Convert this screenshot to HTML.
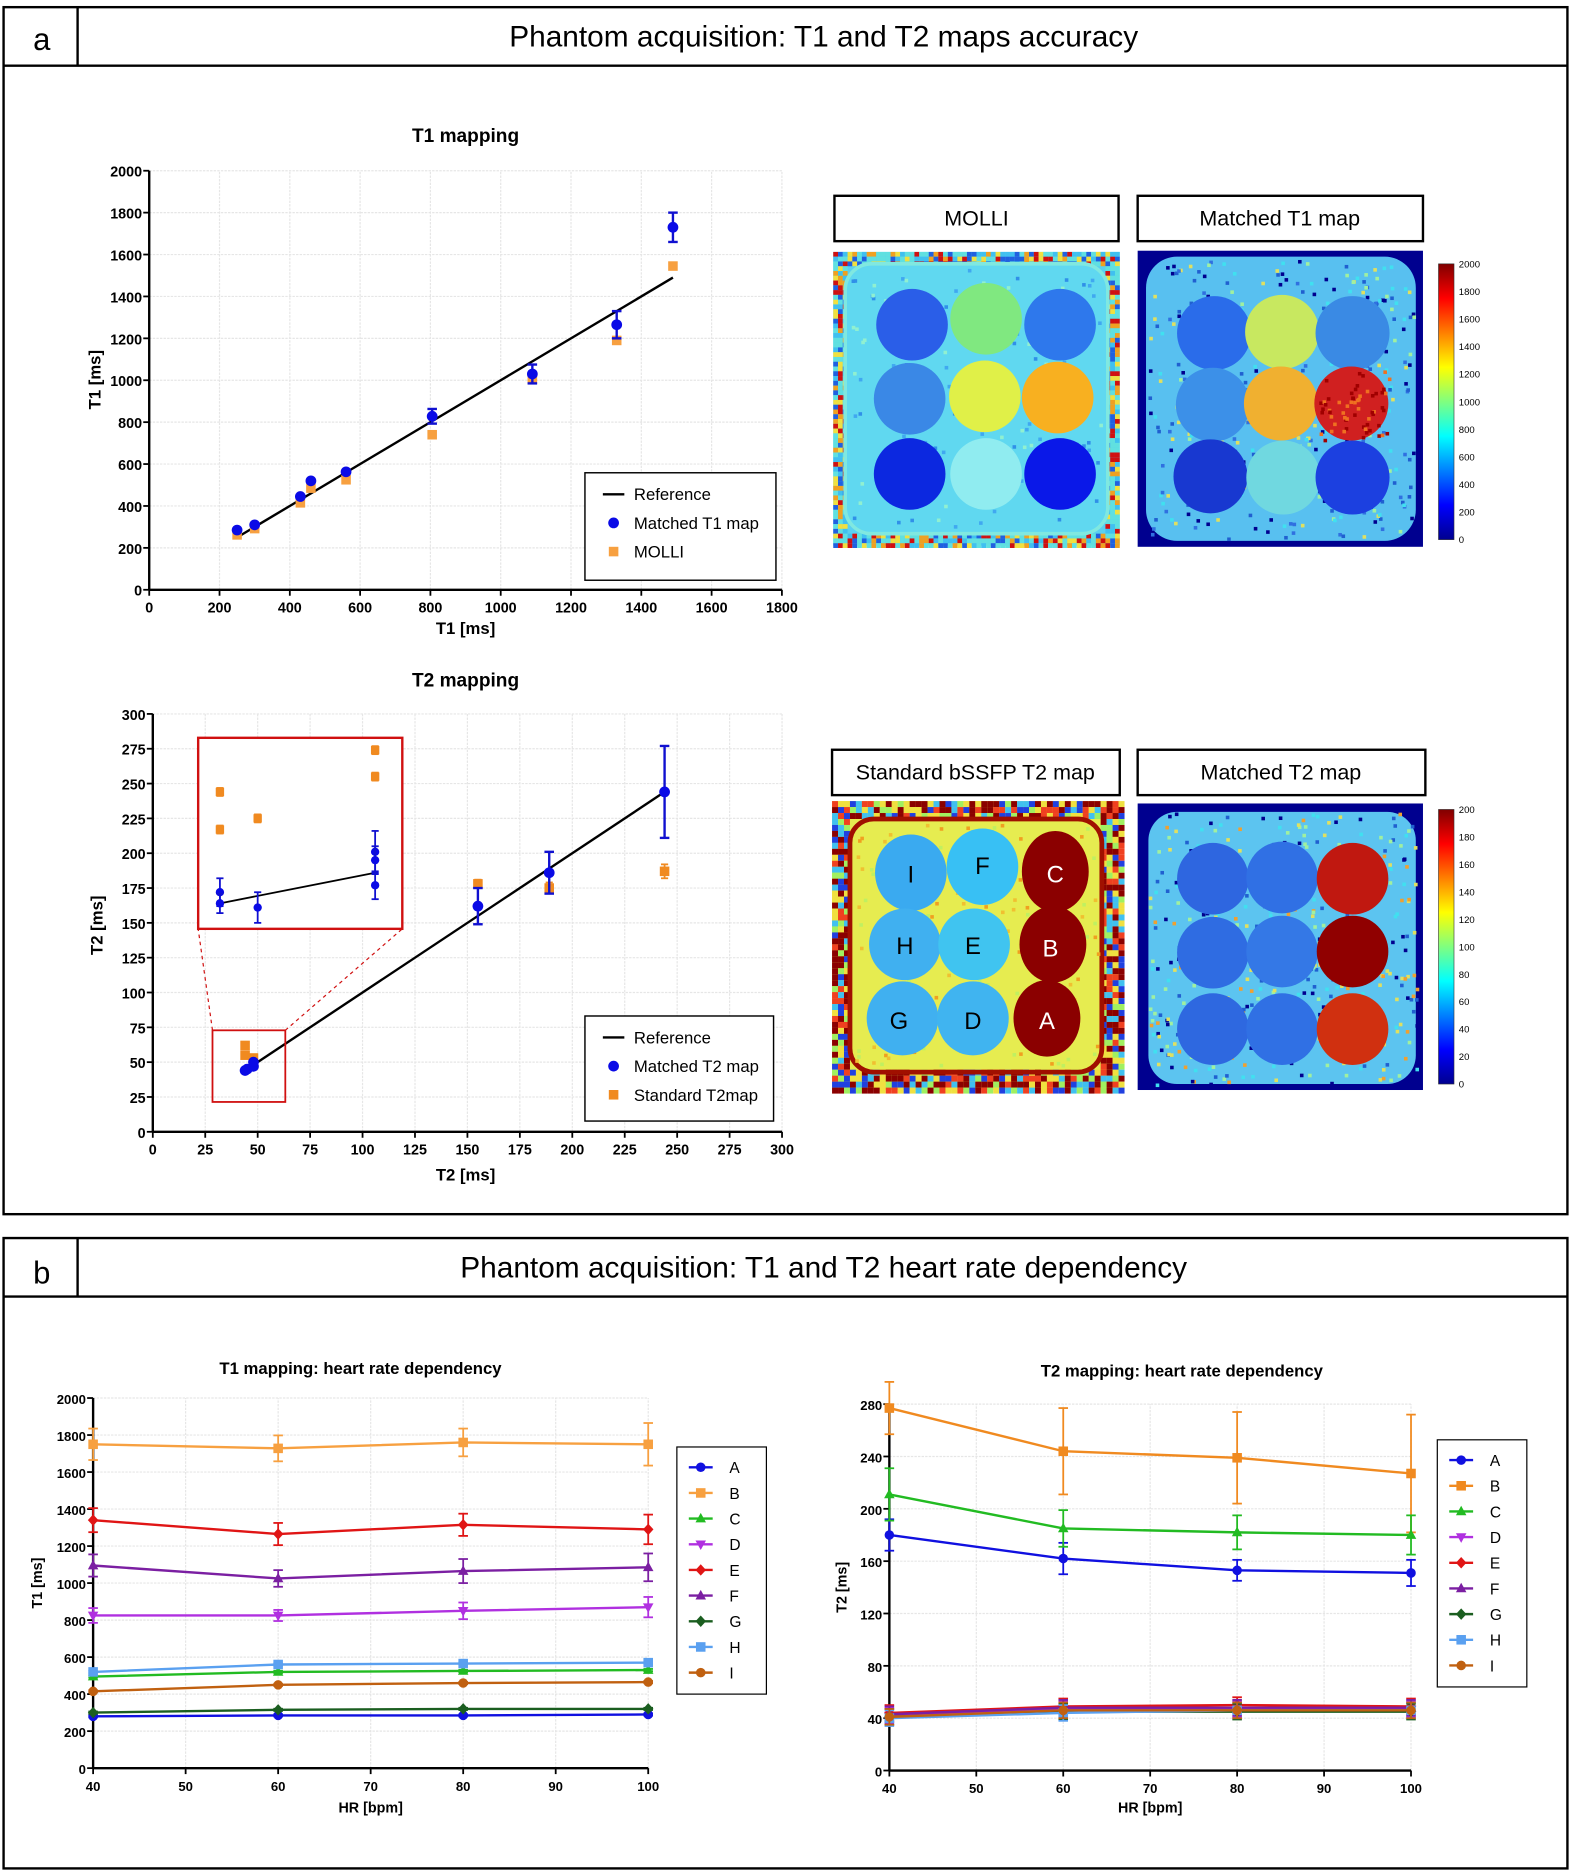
<!DOCTYPE html>
<html><head><meta charset="utf-8">
<style>
html,body{margin:0;padding:0;background:#fff;overflow:hidden;}
svg{display:block;font-family:"Liberation Sans",sans-serif;}
</style></head>
<body>
<svg id="fig" width="1571" height="1872" viewBox="0 0 1316 1568" preserveAspectRatio="none" xmlns="http://www.w3.org/2000/svg">
<rect x="0" y="0" width="1316" height="1568" fill="#fff"/>
<g>
<rect x="3" y="6" width="1310" height="1011" fill="none" stroke="#000" stroke-width="2"/>
<line x1="3" y1="55" x2="1313" y2="55" stroke="#000" stroke-width="2"/>
<line x1="65" y1="6" x2="65" y2="55" stroke="#000" stroke-width="2"/>
<text x="35" y="42" font-size="26" text-anchor="middle">a</text>
<text x="690" y="39" font-size="25" text-anchor="middle">Phantom acquisition: T1 and T2 maps accuracy</text>
</g>
<g>
<rect x="3" y="1037" width="1310" height="528" fill="none" stroke="#000" stroke-width="2"/>
<line x1="3" y1="1086" x2="1313" y2="1086" stroke="#000" stroke-width="2"/>
<line x1="65" y1="1037" x2="65" y2="1086" stroke="#000" stroke-width="2"/>
<text x="35" y="1075" font-size="26" text-anchor="middle">b</text>
<text x="690" y="1070" font-size="25" text-anchor="middle">Phantom acquisition: T1 and T2 heart rate dependency</text>
</g>
<g font-size="18" text-anchor="middle">
<rect x="699" y="164" width="238" height="38" fill="#fff" stroke="#000" stroke-width="2"/>
<text x="818" y="189">MOLLI</text>
<rect x="953" y="164" width="239" height="38" fill="#fff" stroke="#000" stroke-width="2"/>
<text x="1072" y="189">Matched T1 map</text>
<rect x="697" y="628" width="241" height="38" fill="#fff" stroke="#000" stroke-width="2"/>
<text x="817" y="653">Standard bSSFP T2 map</text>
<rect x="953" y="628" width="241" height="38" fill="#fff" stroke="#000" stroke-width="2"/>
<text x="1073" y="653">Matched T2 map</text>
</g>
<defs>
<linearGradient id="jet" x1="0" y1="1" x2="0" y2="0">
<stop offset="0" stop-color="#00008f"/><stop offset="0.125" stop-color="#0000ff"/>
<stop offset="0.375" stop-color="#00ffff"/><stop offset="0.625" stop-color="#ffff00"/>
<stop offset="0.875" stop-color="#ff0000"/><stop offset="1" stop-color="#800000"/>
</linearGradient>
</defs>
<g id="maps"></g>
<g id="charts"></g>
</svg>
<script>
// ---------- chart data ----------
const t1MatchedX = [250,300,430,460,560,805,1090,1330,1490];
const t1MatchedY = [285,310,445,520,563,828,1030,1265,1730];
const t1MatchedErr = [10,10,10,10,10,35,45,65,70];
const t1MolliX = [250,300,430,460,560,805,1090,1330,1490];
const t1MolliY = [262,292,415,485,525,740,1005,1190,1545];
const t1RefX = [250,1490];
const t1XTicks = [0,200,400,600,800,1000,1200,1400,1600,1800];
const t1YTicks = [0,200,400,600,800,1000,1200,1400,1600,1800,2000];

const t2MatchedX = [44,45,48,48,155,189,244];
const t2MatchedY = [44,45,47,50,162,186,244];
const t2MatchedErr = [2,2,2,2,13,15,33];
const t2StdX = [44,44,48,155,189,244];
const t2StdY = [62,55,53,178,175,187];
const t2StdErr = [2,2,2,3,4,5];
const t2RefX = [44,244];
const t2InsetBlueX = [32,32,50,106,106,106];
const t2InsetBlueY = [172,164,161,201,195,177];
const t2InsetBlueErr = [10,7,11,15,10,10];
const t2InsetOrangeX = [32,32,50,106,106];
const t2InsetOrangeY = [244,217,225,274,255];
const t2InsetRefX = [32,106];
const t2InsetRefY = [164,186];
const t2XTicks = [0,25,50,75,100,125,150,175,200,225,250,275,300];
const t2YTicks = [0,25,50,75,100,125,150,175,200,225,250,275,300];

const hrX = [40,60,80,100];
const hrSeriesNames = ['A','B','C','D','E','F','G','H','I'];
const hrT1A = [280,285,285,290];
const hrT1B = [1750,1728,1760,1750];
const hrT1C = [495,520,525,530];
const hrT1D = [825,825,850,870];
const hrT1E = [1340,1265,1315,1290];
const hrT1F = [1095,1025,1065,1085];
const hrT1G = [300,315,320,320];
const hrT1H = [520,560,565,570];
const hrT1I = [415,450,460,465];
const hrT1ErrB = [85,70,75,115];
const hrT1ErrD = [40,30,45,55];
const hrT1ErrE = [65,60,60,80];
const hrT1ErrF = [60,45,65,75];
const hrT2A = [180,162,153,151];
const hrT2B = [277,244,239,227];
const hrT2C = [211,185,182,180];
const hrT2D = [42,47,47,47];
const hrT2E = [44,49,50,49];
const hrT2F = [43,48,48,48];
const hrT2G = [41,45,45,45];
const hrT2H = [40,44,46,46];
const hrT2I = [41,46,46,46];
const hrT2ErrA = [12,12,8,10];
const hrT2ErrB = [20,33,35,45];
const hrT2ErrC = [20,14,13,15];
const hrXTicks = [40,50,60,70,80,90,100];
const hrT1YTicks = [0,200,400,600,800,1000,1200,1400,1600,1800,2000];
const hrT2YTicks = [0,40,80,120,160,200,240,280];

const NS='http://www.w3.org/2000/svg';
function mk(tag,attrs,parent){const e=document.createElementNS(NS,tag);for(const k in attrs)e.setAttribute(k,attrs[k]);(parent||charts).appendChild(e);return e;}
const charts=document.getElementById('charts');
const maps=document.getElementById('maps');

function axes(g,sx,sy,xt,yt,x0,x1,y0,y1,fs,xlabel,ylabel,xlx,xly,ylx,yly,tfs){
  xt.forEach(v=>{const l=mk('line',{x1:sx(v),x2:sx(v),y1:sy(y0),y2:sy(y1),stroke:'#e6e6e6','stroke-dasharray':'2,1'},g);
    
    });
  yt.forEach(v=>{const l=mk('line',{x1:sx(x0),x2:sx(x1),y1:sy(v),y2:sy(v),stroke:'#e6e6e6','stroke-dasharray':'2,1'},g);
    
    });
  const ax=mk('line',{x1:sx(x0),x2:sx(x1),y1:sy(y0),y2:sy(y0),stroke:'#000','stroke-width':2},g);
  
  
  const ay=mk('line',{x1:sx(x0),x2:sx(x0),y1:sy(y0),y2:sy(y1),stroke:'#000','stroke-width':2},g);
  
  
  xt.forEach(v=>{mk('line',{x1:sx(v),x2:sx(v),y1:sy(y0),y2:sy(y0)+5,stroke:'#000','stroke-width':1.5},g);
    const t=mk('text',{x:sx(v),y:sy(y0)+19,'font-size':fs,'font-weight':'bold','text-anchor':'middle'},g);t.textContent=v;
    
    });
  yt.forEach(v=>{mk('line',{x1:sx(x0)-5,x2:sx(x0),y1:sy(v),y2:sy(v),stroke:'#000','stroke-width':1.5},g);
    const t=mk('text',{x:sx(x0)-6,y:sy(v)+5,'font-size':fs,'font-weight':'bold','text-anchor':'end'},g);t.textContent=v;
    
    });
  const xl=mk('text',{x:xlx,y:xly,'font-size':tfs,'font-weight':'bold','text-anchor':'middle'},g);xl.textContent=xlabel;
  
  
  const yl=mk('text',{x:ylx,y:yly,'font-size':tfs,'font-weight':'bold','text-anchor':'middle',transform:`rotate(-90 ${ylx} ${yly})`},g);yl.textContent=ylabel;
  
  
}
function errbar(g,x,ylo,yhi,col,w,cap){
  mk('line',{x1:x,x2:x,y1:ylo,y2:yhi,stroke:col,'stroke-width':w},g);
  mk('line',{x1:x-cap,x2:x+cap,y1:ylo,y2:ylo,stroke:col,'stroke-width':w},g);
  mk('line',{x1:x-cap,x2:x+cap,y1:yhi,y2:yhi,stroke:col,'stroke-width':w},g);
}
function marker(g,shape,x,y,s,col){
  let e;
  if(shape==='circle')e=mk('circle',{cx:x,cy:y,r:s,fill:col},g);
  else if(shape==='square')e=mk('rect',{x:x-s,y:y-s,width:2*s,height:2*s,fill:col},g);
  else if(shape==='tri')e=mk('polygon',{points:`${x},${y-s*1.2} ${x-s*1.1},${y+s*0.8} ${x+s*1.1},${y+s*0.8}`,fill:col},g);
  else if(shape==='tridown')e=mk('polygon',{points:`${x},${y+s*1.2} ${x-s*1.1},${y-s*0.8} ${x+s*1.1},${y-s*0.8}`,fill:col},g);
  else e=mk('polygon',{points:`${x},${y-s*1.2} ${x+s*1.1},${y} ${x},${y+s*1.2} ${x-s*1.1},${y}`,fill:col},g);
  return e;
}
function title(g,x,y,txt,fs){const t=mk('text',{x:x,y:y,'font-size':fs,'font-weight':'bold','text-anchor':'middle'},g);t.textContent=txt;
  
  }

// ---------- T1 accuracy ----------
(function(){
  const g=mk('g',{});
  
  
  const sx=v=>125+v*0.29444, sy=v=>494-v*0.1755;
  title(g,390,119,'T1 mapping',16);
  axes(g,sx,sy,t1XTicks,t1YTicks,0,1800,0,2000,12,'T1 [ms]','T1 [ms]',390,531,84,318,14);
  const ref=mk('line',{x1:sx(t1RefX[0]),y1:sy(t1RefX[0]),x2:sx(t1RefX[1]),y2:sy(t1RefX[1]),stroke:'#000','stroke-width':2},g);
  
  
  t1MolliX.forEach((x,i)=>{const m=marker(g,'square',sx(x),sy(t1MolliY[i]),4,'#f7a040');
    
    });
  t1MatchedX.forEach((x,i)=>{const y=t1MatchedY[i],e=t1MatchedErr[i];
    if(e>15)errbar(g,sx(x),sy(y-e),sy(y+e),'#1010d0',2,4);
    const m=marker(g,'circle',sx(x),sy(y),4.5,'#0a0ae6');
    
    });
  const lg=mk('g',{},g);
  
  
  mk('rect',{x:490,y:396,width:160,height:90,fill:'#fff',stroke:'#000','stroke-width':1.2},lg);
  mk('line',{x1:505,x2:523,y1:414,y2:414,stroke:'#000','stroke-width':2},lg);
  marker(lg,'circle',514,438,4.5,'#0a0ae6');
  marker(lg,'square',514,462,4,'#f7a040');
  [['Reference',419],['Matched T1 map',443],['MOLLI',467]].forEach(a=>{const t=mk('text',{x:531,y:a[1],'font-size':14},lg);t.textContent=a[0];});
})();

// ---------- T2 accuracy ----------
(function(){
  const g=mk('g',{});
  
  
  const sx=v=>128+v*1.757, sy=v=>948-v*1.1667;
  title(g,390,575,'T2 mapping',16);
  axes(g,sx,sy,t2XTicks,t2YTicks,0,300,0,300,12,'T2 [ms]','T2 [ms]',390,989,86,775,14);
  const ref=mk('line',{x1:sx(t2RefX[0]),y1:sy(t2RefX[0]),x2:sx(t2RefX[1]),y2:sy(t2RefX[1]),stroke:'#000','stroke-width':2},g);
  
  
  t2StdX.forEach((x,i)=>{const y=t2StdY[i],e=t2StdErr[i];
    errbar(g,sx(x),sy(y-e),sy(y+e),'#f08a20',1.5,3);
    const m=marker(g,'square',sx(x),sy(y),4,'#f08a20');
    
    });
  t2MatchedX.forEach((x,i)=>{const y=t2MatchedY[i],e=t2MatchedErr[i];
    if(e>5)errbar(g,sx(x),sy(y-e),sy(y+e),'#1010d0',2,4);
    const m=marker(g,'circle',sx(x),sy(y),4.5,'#0a0ae6');
    
    });
  const zb=mk('rect',{x:178,y:863,width:61,height:60,fill:'none',stroke:'#d01010','stroke-width':1.5},g);
  
  
  mk('line',{x1:178,y1:863,x2:166,y2:778,stroke:'#d01010','stroke-dasharray':'3,3'},g);
  mk('line',{x1:239,y1:863,x2:337,y2:778,stroke:'#d01010','stroke-dasharray':'3,3'},g);
  const ib=mk('rect',{x:166,y:618,width:171,height:160,fill:'#fff',stroke:'#d01010','stroke-width':2},g);
  
  
  mk('line',{x1:sx(t2InsetRefX[0]),y1:sy(t2InsetRefY[0]),x2:sx(t2InsetRefX[1]),y2:sy(t2InsetRefY[1]),stroke:'#000','stroke-width':1.5},g);
  t2InsetOrangeX.forEach((x,i)=>{const y=t2InsetOrangeY[i];
    errbar(g,sx(x),sy(y-3),sy(y+3),'#f08a20',1.2,3);
    const m=marker(g,'square',sx(x),sy(y),3.5,'#f08a20');
    
    });
  t2InsetBlueX.forEach((x,i)=>{const y=t2InsetBlueY[i],e=t2InsetBlueErr[i];
    errbar(g,sx(x),sy(y-e),sy(y+e),'#1010d0',1.5,3);
    const m=marker(g,'circle',sx(x),sy(y),3.5,'#0a0ae6');
    
    });
  const lg=mk('g',{},g);
  
  
  mk('rect',{x:490,y:851,width:158,height:88,fill:'#fff',stroke:'#000','stroke-width':1.2},lg);
  mk('line',{x1:505,x2:523,y1:869,y2:869,stroke:'#000','stroke-width':2},lg);
  marker(lg,'circle',514,893,4.5,'#0a0ae6');
  marker(lg,'square',514,917,4,'#f08a20');
  [['Reference',874],['Matched T2 map',898],['Standard T2map',922]].forEach(a=>{const t=mk('text',{x:531,y:a[1],'font-size':14},lg);t.textContent=a[0];});
})();

// ---------- HR charts ----------
const hrShapes=['circle','square','tri','tridown','diamond','tri','diamond','square','circle'];
function hrChart(name,sx,sy,yt,ymax,series,errs,cols,ttl,tx,ty,ylabel,ylx,lx,ly){
  const g=mk('g',{});
  
  
  title(g,tx,ty,ttl,14);
  axes(g,sx,sy,hrXTicks,yt,40,100,0,ymax,11,'HR [bpm]',ylabel,sx(70),1518,ylx,sy(ymax/2),12);
  series.forEach((vals,s)=>{
    const pts=hrX.map((x,i)=>sx(x)+','+sy(vals[i])).join(' ');
    const pl=mk('polyline',{points:pts,fill:'none',stroke:cols[s],'stroke-width':2},g);
    
    
    hrX.forEach((x,i)=>{const e=errs[s]?errs[s][i]:6;
      errbar(g,sx(x),sy(vals[i]-e),sy(vals[i]+e),cols[s],1.5,4);
      const m=marker(g,hrShapes[s],sx(x),sy(vals[i]),4,cols[s]);
      
      });
  });
  const lg=mk('g',{},g);
  
  
  mk('rect',{x:lx,y:ly,width:75,height:207,fill:'#fff',stroke:'#000','stroke-width':1},lg);
  hrSeriesNames.forEach((n,s)=>{const y=ly+17+s*21.5;
    mk('line',{x1:lx+10,x2:lx+30,y1:y,y2:y,stroke:cols[s],'stroke-width':2},lg);
    marker(lg,hrShapes[s],lx+20,y,4,cols[s]);
    const t=mk('text',{x:lx+44,y:y+5,'font-size':13},lg);t.textContent=n;
    
    });
}
hrChart('t1-hr-chart',v=>78+(v-40)*7.75,v=>1481-v*0.155,hrT1YTicks,2000,
  [hrT1A,hrT1B,hrT1C,hrT1D,hrT1E,hrT1F,hrT1G,hrT1H,hrT1I],
  [null,hrT1ErrB,null,hrT1ErrD,hrT1ErrE,hrT1ErrF,null,null,null],
  ['#1010e0','#f7a040','#22bb22','#b030e0','#e01515','#7b1fa2','#1b5e20','#5aa0f0','#c06010'],
  'T1 mapping: heart rate dependency',302,1151,'T1 [ms]',35,567,1212);
hrChart('t2-hr-chart',v=>745+(v-40)*7.283,v=>1483-v*1.096,hrT2YTicks,280,
  [hrT2A,hrT2B,hrT2C,hrT2D,hrT2E,hrT2F,hrT2G,hrT2H,hrT2I],
  [hrT2ErrA,hrT2ErrB,hrT2ErrC,null,null,null,null,null,null],
  ['#1010e0','#f08a20','#22bb22','#b030e0','#e01515','#7b1fa2','#1b5e20','#5aa0f0','#c06010'],
  'T2 mapping: heart rate dependency',990,1153,'T2 [ms]',709,1204,1206);

// ---------- maps (images) ----------
let seed=7;function rnd(){seed=(seed*16807)%2147483647;return seed/2147483647;}
function noiseFrame(x,y,w,h,band,cell,pal){
  for(let yy=y;yy<y+h;yy+=cell)for(let xx=x;xx<x+w;xx+=cell){
    const inner=xx>x+band&&xx<x+w-band-cell&&yy>y+band&&yy<y+h-band-cell;
    if(inner)continue;
    mk('rect',{x:xx,y:yy,width:cell,height:cell,fill:pal[Math.floor(rnd()*pal.length)]},maps);
  }
}
function speckle(x,y,w,h,n,cell,pal){for(let i=0;i<n;i++)mk('rect',{x:x+rnd()*w,y:y+rnd()*h,width:cell,height:cell,fill:pal[Math.floor(rnd()*pal.length)]},maps);}
function mapImage(name,x,y,w,h,bg){const r=mk('rect',{x:x,y:y,width:w,height:h,fill:bg},maps);
  
  }
mapImage('molli-map',698,211,240,246,'#5ad0f0');
noiseFrame(698,211,240,246,8,4,['#d01010','#f0e040','#40c0f0','#60e0e0','#60e0e0','#f0a020','#2060e0']);
mk('rect',{x:708,y:221,width:220,height:226,rx:22,fill:'#60d8f0',stroke:'#80e8e0','stroke-width':3},maps);
speckle(712,225,212,218,120,3,['#40a8f0','#90f0d0','#3090e8']);
[[764,272,'#2a5ee8'],[826,267,'#80e880'],[888,272,'#2e78ec'],[762,334,'#3a88e6'],[825,332,'#e0f048'],[886,333,'#f8b020'],[762,397,'#0c28e0'],[826,397,'#90ecf0'],[888,397,'#0a18e8']].forEach(c=>mk('circle',{cx:c[0],cy:c[1],r:30,fill:c[2]},maps));
mapImage('matched-t1-map',953,210,239,248,'#00008f');
mk('rect',{x:960,y:215,width:226,height:238,rx:26,fill:'#58c0f0'},maps);
speckle(962,217,222,234,420,3,['#a0f0a0','#2060d0','#00008f','#e0e060','#40e0f0','#3070e0']);
[[1017,279,'#2a6cea'],[1074,278,'#c8e860'],[1133,279,'#3a8ae4'],[1016,339,'#3c90e8'],[1073,338,'#f0b030'],[1132,338,'#d02020'],[1014,399,'#1838d0'],[1075,400,'#70d8e0'],[1133,400,'#1c40e0']].forEach(c=>mk('circle',{cx:c[0],cy:c[1],r:31,fill:c[2]},maps));
speckle(1103,310,60,58,60,3,['#f07020','#a00000']);
mapImage('bssfp-t2-map',697,671,241,242,'#e6ec50');
noiseFrame(697,671,241,242,14,5,['#8b0000','#8b0000','#f0e040','#40c0f0','#f04020','#2040e0','#a0f060']);
mk('rect',{x:712,y:686,width:211,height:212,rx:20,fill:'none',stroke:'#a01000','stroke-width':4},maps);
speckle(716,690,203,204,140,3,['#f0c030','#c0f060','#f0a020']);
[[763,731,'#3aaaf0',30,32],[823,726,'#38c0f4',30,32],[884,730,'#8b0000',28,34],[758,791,'#40b0f0',30,30],[816,791,'#40c4f0',30,30],[882,791,'#8b0000',28,32],[756,853,'#40b0f0',30,31],[815,853,'#40b4f0',30,31],[877,853,'#8b0000',28,32]].forEach(c=>mk('ellipse',{cx:c[0],cy:c[1],rx:c[3],ry:c[4],fill:c[2]},maps));
[['I',763,739],['F',823,732],['C',884,739],['H',758,799],['E',815,799],['B',880,801],['G',753,862],['D',815,862],['A',877,862]].forEach(l=>{const t=mk('text',{x:l[1],y:l[2],'font-size':20,fill:l[0]==='A'||l[0]==='B'||l[0]==='C'?'#fff':'#000','text-anchor':'middle'},maps);t.textContent=l[0];
  
  });
mapImage('matched-t2-map',953,673,239,240,'#00008f');
mk('rect',{x:962,y:680,width:224,height:228,rx:24,fill:'#5cc4f0'},maps);
speckle(962,680,224,228,420,3,['#a0f0a0','#2060d0','#00008f','#e0e060','#40e0f0','#f0a030']);
[[1016,736,'#2e66e0'],[1074,735,'#3070e4'],[1133,736,'#c01810'],[1016,798,'#2f6ce2'],[1074,797,'#3478e6'],[1133,797,'#900000'],[1016,862,'#2e68e0'],[1074,862,'#3070e4'],[1133,862,'#d03010']].forEach(c=>mk('circle',{cx:c[0],cy:c[1],r:30,fill:c[2]},maps));
function colorbar(name,x,y,h,labels){
  const r=mk('rect',{x:x,y:y,width:13,height:h,fill:'url(#jet)',stroke:'#333','stroke-width':0.5},maps);
  
  
  labels.forEach((v,i)=>{const yy=y+h-i*h/(labels.length-1);
    const t=mk('text',{x:x+17,y:yy+3,'font-size':8},maps);t.textContent=v;});
}
colorbar('t1-colorbar',1205,221,231,[0,200,400,600,800,1000,1200,1400,1600,1800,2000]);
colorbar('t2-colorbar',1205,678,230,[0,20,40,60,80,100,120,140,160,180,200]);
</script>
</body></html>
